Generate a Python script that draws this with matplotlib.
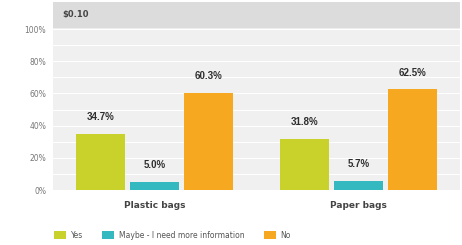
import numpy as np
import matplotlib.pyplot as plt
from matplotlib.patches import Patch

# DATA
categories = ["Plastic bags", "Paper bags"]
series_names = ["Yes", "Maybe - I need more information", "No"]
yes_vals = [34.7, 31.8]
maybe_vals = [5.0, 5.7]
no_vals = [60.3, 62.5]
header_label = "$0.10"
yticks = [0, 20, 40, 60, 80, 100]

colors = ["#c9d12b", "#35b9c1", "#f6a821"]

fig = plt.figure(figsize=(4.62, 2.45), dpi=100)
ax = fig.add_axes([53 / 462, 55 / 245, 407 / 462, 188 / 245])

top = 116.8
ax.set_xlim(-0.5, 1.5)
ax.set_ylim(0, top)
ax.set_facecolor("#f0f0f0")

# header band
ax.axhspan(101.3, top, color="#dcdcdc", zorder=1)
ax.text(0.022, 108.8, header_label.replace("$", r"\$"), transform=ax.get_yaxis_transform(),
        fontsize=6, fontweight="bold", color="#444444", va="center", ha="left")

# grid lines every 10%
for g in range(10, 101, 10):
    ax.axhline(g, color="white", lw=0.8, zorder=1)

x = np.arange(len(categories))
w = 0.24
step = 0.265
for i, (vals, c) in enumerate(zip([yes_vals, maybe_vals, no_vals], colors)):
    pos = x + (i - 1) * step
    ax.bar(pos, vals, width=w, color=c, zorder=2)
    for p, v in zip(pos, vals):
        ax.annotate(f"{v:.1f}%", (p, v), xytext=(0, 12), textcoords="offset points",
                    ha="center", va="center", fontsize=7, fontweight="bold",
                    family="Liberation Sans", color="#2e2e2e")

for s in ax.spines.values():
    s.set_visible(False)

ax.set_yticks(yticks)
ax.set_yticklabels([f"{t}%" for t in yticks], fontsize=5.5, color="#777777")
ax.tick_params(axis="y", length=0, pad=5)
ax.set_xticks(x)
ax.set_xticklabels(categories, fontsize=6.5, fontweight="bold", color="#444444")
ax.tick_params(axis="x", length=0, pad=8)

handles = [Patch(facecolor=c, edgecolor="none") for c in colors]
fig.legend(handles, series_names, loc="center left", bbox_to_anchor=(47 / 462, 1 - 235 / 245),
           ncol=3, frameon=False, fontsize=5.5, handlelength=1.6, handleheight=1.1,
           handletextpad=0.6, columnspacing=2.5, labelcolor="#555555")

fig.savefig("out.png", dpi=100, facecolor="white")
